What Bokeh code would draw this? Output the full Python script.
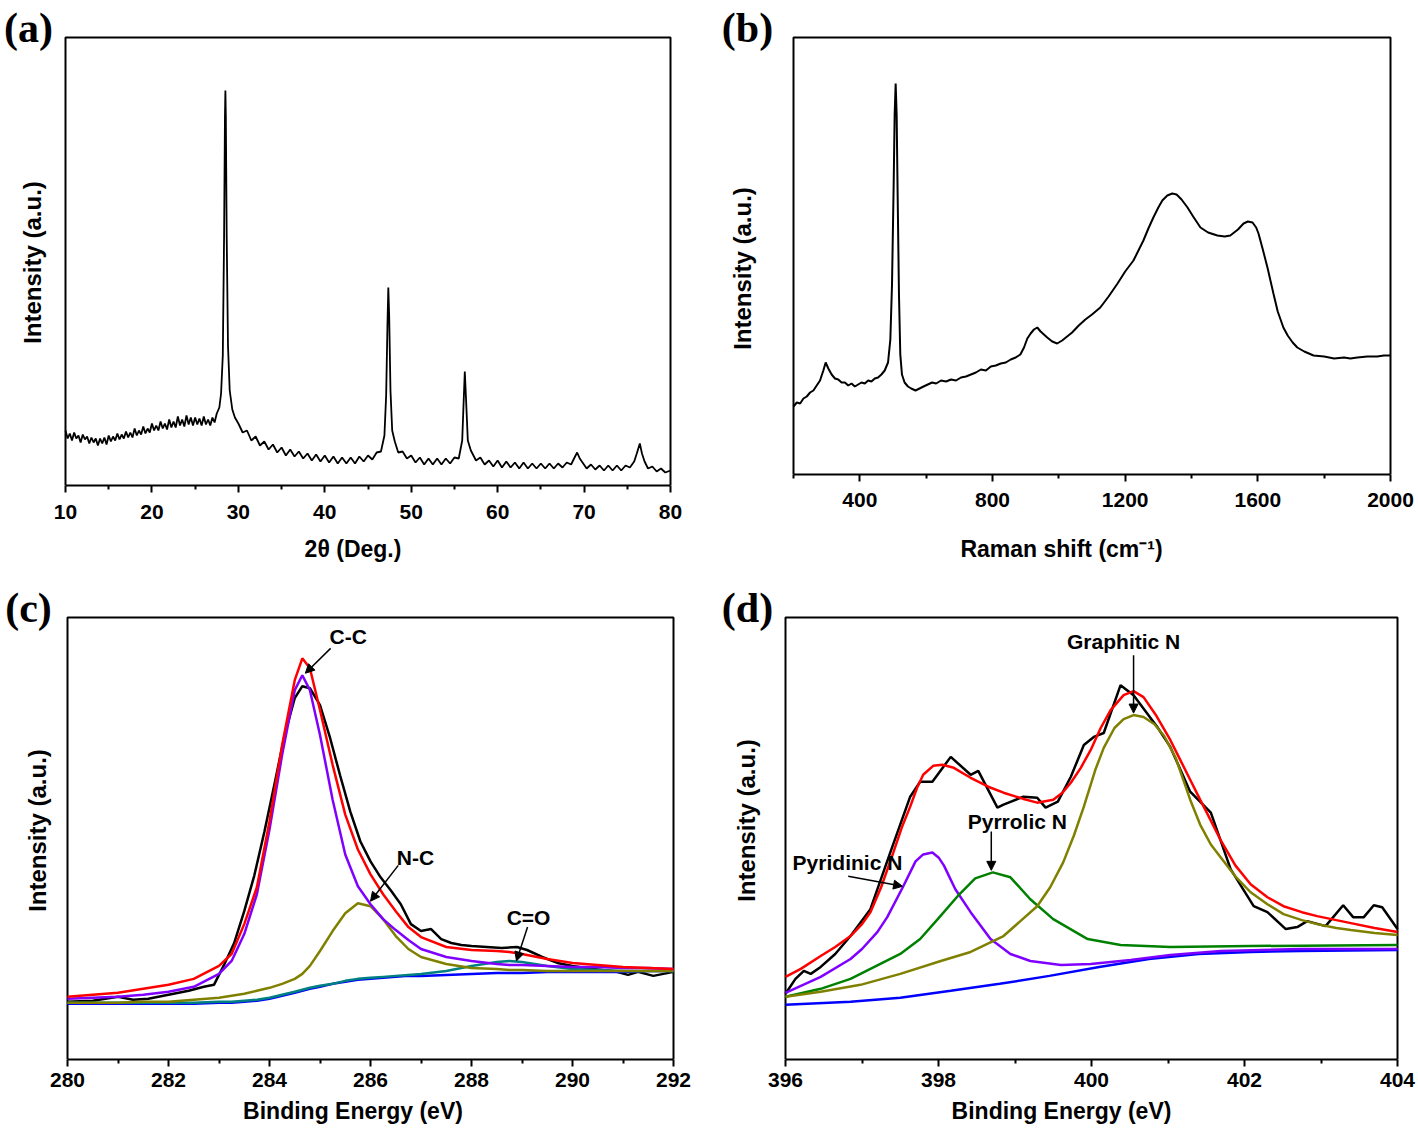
import math
from bokeh.plotting import figure
from bokeh.layouts import column, row
from bokeh.models import FixedTicker, Label, Arrow, NormalHead, Range1d
from bokeh.embed import file_html
from bokeh.resources import INLINE

# ---------------- (a) XRD ----------------
xrd_two_theta = [
    10.0, 10.25, 10.5, 10.75, 11.0, 11.25, 11.5, 11.75, 12.0, 12.25,
    12.5, 12.75, 13.0, 13.25, 13.5, 13.75, 14.0, 14.25, 14.5, 14.75,
    15.0, 15.25, 15.5, 15.75, 16.0, 16.25, 16.5, 16.75, 17.0, 17.25,
    17.5, 17.75, 18.0, 18.25, 18.5, 18.75, 19.0, 19.25, 19.5, 19.75,
    20.0, 20.25, 20.5, 20.75, 21.0, 21.25, 21.5, 21.75, 22.0, 22.25,
    22.5, 22.75, 23.0, 23.25, 23.5, 23.75, 24.0, 24.25, 24.5, 24.75,
    25.0, 25.25, 25.5, 25.75, 26.0, 26.25, 26.5, 26.75, 27.0, 27.25,
    27.5, 27.8, 28.0, 28.2, 28.35, 28.45, 28.5, 28.55, 28.65, 28.8,
    29.0, 29.3, 29.6, 30.0, 30.5,
    31.0, 31.5, 32.0, 32.5, 33.0, 33.5, 34.0, 34.5, 35.0, 35.5,
    36.0, 36.5, 37.0, 37.5, 38.0, 38.5, 39.0, 39.5, 40.0, 40.5,
    41.0, 41.5, 42.0, 42.5, 43.0, 43.5, 44.0, 44.5, 45.0, 45.5,
    46.0, 46.5, 46.9, 47.1, 47.25, 47.35, 47.45, 47.6, 47.8, 48.1,
    48.5, 49.0, 49.5, 50.0, 50.5, 51.0, 51.5, 52.0, 52.5, 53.0,
    53.5, 54.0, 54.5, 55.0, 55.5, 55.9, 56.05, 56.2, 56.35, 56.55,
    56.9, 57.5, 58.0, 58.5, 59.0, 59.5, 60.0, 60.5, 61.0, 61.5,
    62.0, 62.5, 63.0, 63.5, 64.0, 64.5, 65.0, 65.5, 66.0, 66.5,
    67.0, 67.5, 68.0, 68.5, 68.9, 69.2, 69.5, 69.9, 70.3, 70.8,
    71.3, 71.8, 72.3, 72.8, 73.3, 73.8, 74.3, 74.8, 75.3, 75.8,
    76.1, 76.45, 76.7, 77.0, 77.4, 77.9, 78.4, 78.9, 79.4, 80.0]
xrd_intensity = [
    55, 47, 52, 45, 53, 47, 50, 43, 51, 46,
    49, 42, 48, 43, 47, 40, 47, 42, 48, 41,
    50, 44, 49, 45, 52, 46, 51, 47, 54, 48,
    53, 48, 57, 50, 55, 51, 59, 52, 57, 53,
    62, 55, 60, 55, 64, 57, 62, 56, 66, 58,
    64, 58, 69, 60, 66, 59, 70, 61, 68, 60,
    68, 61, 67, 60, 69, 61, 66, 60, 68, 63,
    72, 78, 92, 130, 250, 370, 395, 370, 250, 140,
    95, 76, 68, 62, 53,
    55, 45, 49, 40, 44, 36, 41, 33, 38, 30,
    36, 29, 34, 27, 32, 25, 31, 24, 30, 23,
    29, 22, 28, 22, 28, 22, 29, 24, 30, 26,
    33, 34, 50, 90, 160, 198, 170, 95, 55, 44,
    33, 34, 27, 30, 23, 28, 21, 27, 21, 27,
    21, 27, 22, 28, 27, 45, 80, 114, 85, 45,
    35, 25, 28, 21, 25, 19, 25, 18, 24, 18,
    23, 17, 23, 17, 22, 17, 22, 17, 22, 17,
    22, 18, 23, 21, 28, 33, 27, 22, 17, 21,
    16, 20, 15, 20, 15, 20, 15, 20, 18, 24,
    32, 42, 32, 24, 17, 19, 14, 17, 13, 15]
xrd_ticks = [10, 20, 30, 40, 50, 60, 70, 80]
xrd_minor = [15, 25, 35, 45, 55, 65, 75]

# ---------------- (b) Raman ----------------
raman_shift = [
    200, 210, 220, 230, 240, 250, 260, 270, 280, 290,
    297, 305, 315, 325, 335, 345, 355, 365, 375, 385,
    395, 405, 415, 425, 435, 445, 455, 465, 475, 485,
    492, 497, 502, 505, 508, 511, 514, 518, 522, 527,
    535, 545, 555, 568, 580, 592, 605, 618, 630, 645,
    660, 675, 690, 705, 720, 735, 750, 765, 780, 795,
    810, 825, 840, 855, 870, 884, 895, 905, 915, 925,
    935, 945, 955, 965, 980, 995, 1010, 1025, 1040, 1060,
    1080, 1100, 1125, 1150, 1177, 1200, 1225, 1240, 1255, 1270,
    1285, 1300, 1312, 1327, 1342, 1355, 1370, 1388, 1405, 1427,
    1450, 1478, 1500, 1517, 1540, 1557, 1570, 1584, 1595, 1602,
    1615, 1629, 1647, 1660, 1677, 1690, 1705, 1719, 1740, 1768,
    1800, 1830, 1860, 1879, 1900, 1930, 1960, 1980, 2000]
raman_intensity = [
    68, 72, 71, 76, 78, 82, 84, 89, 94, 104,
    112, 106, 100, 96, 95, 92, 92, 89, 91, 88,
    90, 92, 91, 94, 93, 96, 97, 100, 104, 112,
    135, 190, 290, 360, 391, 360, 280, 180, 120, 100,
    92, 88, 86, 84, 86, 88, 90, 92, 91, 94,
    93, 95, 94, 97, 98, 100, 102, 105, 104, 108,
    109, 111, 112, 115, 117, 120, 127, 136, 141, 145,
    147, 143, 140, 137, 133, 131, 134, 138, 142, 149,
    155, 160, 167, 178, 191, 203, 214, 224, 234, 246,
    257, 267, 274, 279, 281, 280, 275, 267, 258, 247,
    242, 239, 238, 239, 245, 251, 253, 252, 247, 241,
    225, 207, 181, 163, 147, 139, 132, 127, 123, 119,
    118, 116, 117, 116, 117, 118, 118, 119, 119]
raman_ticks = [400, 800, 1200, 1600, 2000]
raman_minor = [200, 600, 1000, 1400, 1800]

# ---------------- (c) C 1s XPS ----------------
c_raw_energy = [
    280, 280.5, 281, 281.3, 281.6, 282, 282.4, 282.7, 282.9, 283.1,
    283.3, 283.5, 283.7, 283.9, 284.1, 284.3, 284.5, 284.65, 284.8, 285,
    285.2, 285.4, 285.6, 285.8, 286, 286.2, 286.4, 286.6, 286.8, 287,
    287.2, 287.4, 287.6, 287.8, 288, 288.3, 288.6, 288.9, 289.1, 289.4,
    289.7, 290, 290.4, 290.8, 291.1, 291.3, 291.6, 291.8, 292]
c_raw = [
    58, 59, 63, 60, 61, 65, 69, 73, 75, 95,
    117, 149, 185, 229, 277, 326, 363, 375, 373, 356,
    323, 285, 249, 219, 199, 183, 170, 156, 136, 129,
    131, 121, 117, 115, 114, 113, 112, 113, 110, 103,
    97, 94, 91, 89, 85, 88, 84, 86, 88]
c_fit_energy = [
    280, 280.5, 281, 281.5, 282, 282.5, 283, 283.25, 283.5, 283.75,
    284, 284.25, 284.5, 284.65, 284.8, 285, 285.25, 285.5, 285.75, 286,
    286.25, 286.5, 286.75, 287, 287.5, 288, 288.5, 288.75, 289, 289.5,
    290, 290.5, 291, 291.5, 292]
c_envelope = [
    63, 65, 67, 71, 75, 81, 94, 106, 136, 173,
    239, 316, 381, 403, 393, 351, 296, 246, 211, 186,
    166, 149, 133, 123, 113, 110, 109, 108, 106, 101,
    97, 95, 93, 92, 91]
c_cc = [
    61, 62, 63, 65, 68, 73, 86, 99, 126, 166,
    231, 306, 371, 386, 371, 326, 261, 206, 174, 156,
    141, 130, 120, 111, 103, 99, 96, 95, 95, 94,
    93, 93, 92, 92, 91]
c_nc = [
    57, 57, 57, 58, 58, 60, 62, 64, 66, 69,
    72, 76, 81, 86, 94, 109, 129, 147, 157, 154,
    141, 124, 111, 103, 96, 92, 91, 90, 90, 89,
    89, 89, 89, 89, 89]
c_co = [
    57, 57, 57, 57, 57, 57, 58, 58, 59, 60,
    62, 65, 68, 70, 72, 74, 76, 79, 81, 82,
    83, 84, 85, 86, 89, 94, 98, 99, 98, 94,
    91, 90, 89, 89, 89]
c_background = [
    56, 56, 56, 56, 56, 56, 57, 57, 58, 59,
    61, 64, 67, 69, 71, 73, 76, 78, 80, 81,
    82, 83, 84, 84, 85, 86, 87, 87, 87, 88,
    88, 88, 88, 89, 89]
c_ticks = [280, 282, 284, 286, 288, 290, 292]
c_minor = [281, 283, 285, 287, 289, 291]

# ---------------- (d) N 1s XPS ----------------
d_raw_energy = [
    396.0, 396.13, 396.24, 396.33, 396.46, 396.65, 396.85, 397.11, 397.37, 397.63,
    397.76, 397.92, 398.16, 398.42, 398.52, 398.77, 398.85, 399.11, 399.29, 399.4,
    399.56, 399.73, 399.9, 400.03, 400.16, 400.38, 400.55, 400.86, 401.03, 401.29,
    401.56, 401.82, 402.12, 402.3, 402.54, 402.69, 402.82, 403.06, 403.29, 403.42,
    403.56, 403.69, 403.8, 404.0]
d_raw = [
    66, 81, 89, 86, 93, 106, 124, 151, 208, 264,
    279, 279, 304, 286, 290, 253, 256, 264, 263, 253,
    259, 284, 316, 324, 328, 376, 366, 334, 314, 269,
    248, 191, 154, 148, 131, 133, 139, 134, 155, 143,
    143, 155, 153, 131]
d_env_energy = [
    396.0, 396.2, 396.46, 396.65, 396.85, 397.0, 397.11, 397.25, 397.41, 397.52,
    397.63, 397.72, 397.8, 397.93, 398.05, 398.2, 398.42, 398.65, 398.85, 399.1,
    399.29, 399.5, 399.62, 399.73, 399.86, 399.99, 400.12, 400.25, 400.42, 400.55,
    400.68, 400.85, 401.03, 401.16, 401.29, 401.42, 401.56, 401.69, 401.88, 402.08,
    402.3, 402.51, 402.75, 402.95, 403.2, 403.39, 403.7, 404.0]
d_envelope = [
    83, 91, 104, 113, 124, 136, 148, 173, 208, 233,
    254, 273, 286, 295, 296, 293, 283, 274, 268, 262,
    258, 261, 268, 278, 293, 311, 333, 351, 366, 370,
    364, 345, 321, 301, 281, 261, 240, 220, 195, 176,
    163, 154, 148, 144, 140, 137, 132, 128]
d_graphitic_energy = [
    396.0, 396.46, 396.98, 397.5, 398.03, 398.42, 398.85, 399.07, 399.29, 399.46,
    399.63, 399.77, 399.9, 400.05, 400.16, 400.3, 400.42, 400.55, 400.68, 400.82,
    400.95, 401.1, 401.29, 401.42, 401.56, 401.69, 401.88, 402.08, 402.3, 402.51,
    402.75, 402.95, 403.2, 403.39, 403.7, 404.0]
d_graphitic = [
    63, 68, 75, 86, 99, 108, 124, 139, 154, 173,
    198, 225, 254, 291, 313, 333, 342, 346, 344, 337,
    325, 303, 261, 236, 216, 203, 184, 168, 156, 146,
    140, 136, 132, 130, 127, 125]
d_pyridinic_energy = [
    396.0, 396.46, 396.85, 397.0, 397.2, 397.33, 397.54, 397.7, 397.8, 397.92,
    398.0, 398.07, 398.22, 398.42, 398.68, 398.94, 399.2, 399.6, 399.99, 400.51,
    401.03, 401.69, 402.73, 404.0]
d_pyridinic = [
    67, 83, 101, 111, 128, 143, 174, 199, 206, 208,
    203, 195, 171, 148, 121, 106, 99, 95, 96, 100,
    105, 109, 111, 111]
d_pyrrolic_energy = [
    396.0, 396.46, 396.85, 397.24, 397.5, 397.76, 397.99, 398.25, 398.48, 398.71,
    398.94, 399.2, 399.5, 399.95, 400.38, 401.03, 402.08, 404.0]
d_pyrrolic = [
    63, 71, 81, 96, 106, 121, 141, 164, 182, 188,
    183, 161, 141, 121, 115, 113, 114, 115]
d_bg_energy = [396.0, 396.85, 397.5, 398.16, 398.8, 399.45, 400.1, 400.75, 401.4, 402.08, 402.73, 404.0]
d_background = [55, 58, 62, 69, 76, 84, 93, 101, 106, 108, 109, 110]
d_ticks = [396, 398, 400, 402, 404]
d_minor = [397, 399, 401, 403]

# annotation texts: text x, text y, arrow start x, y, arrow end x, y (data units)
c_notes = [("C-C", 285.56, 425, 285.21, 413, 284.71, 388),
           ("N-C", 286.89, 203, 286.55, 195, 286.0, 159),
           ("C=O", 289.13, 143, 289.11, 133, 288.89, 99)]
d_notes = [("Graphitic N", 400.42, 420, 400.55, 406, 400.55, 348),
           ("Pyrrolic N", 399.03, 239, 398.69, 229, 398.69, 190),
           ("Pyridinic N", 396.81, 198, 396.82, 184, 397.53, 174)]

FONT = "Liberation Sans"
SERIF = "Liberation Serif"
RED = "#ff0000"
VIOLET = "#8000ff"
OLIVE = "#808000"
TEAL = "#008080"
BLUE = "#0000ff"
GREEN = "#008000"


def panel(W, H, box, xlim, ylim, ticks, minor, xlabel, tick_standoff, title_standoff,
          letter, letter_px, ylabel_px):
    # box: (left, top, right, bottom) of the drawn axes box in canvas pixels
    bl, bt, br, bb = box
    x0, x1 = xlim
    y0, y1 = ylim
    kx = (br - bl) / (x1 - x0)
    ky = (bb - bt) / (y1 - y0)
    xr = Range1d(x0 - bl / kx, x1 + (W - br) / kx)
    yr = Range1d(y0, y1 + bt / ky)

    def to_data(px, py):
        return x0 + (px - bl) / kx, y0 + (bb - py) / ky

    p = figure(width=W, height=H, x_range=xr, y_range=yr, y_axis_location=None,
               output_backend="svg", toolbar_location=None, title=None,
               min_border_left=0, min_border_right=0, min_border_top=0,
               min_border_bottom=H - bb,
               background_fill_color="white", border_fill_color="white")
    if "frame_align" in p.properties():
        p.frame_align = False
    p.xgrid.grid_line_color = None
    p.ygrid.grid_line_color = None
    p.outline_line_color = None
    # the axes box (left, top, right sides); bottom side is the x axis
    p.line([x0, x0, x1, x1], [y0, y1, y1, y0], line_color="black", line_width=2)

    xa = p.xaxis[0]
    xa.bounds = (x0, x1)
    xa.ticker = FixedTicker(ticks=ticks, minor_ticks=minor)
    xa.axis_line_width = 2
    xa.axis_line_color = "black"
    xa.major_tick_line_width = 2
    xa.minor_tick_line_width = 2
    xa.major_tick_line_color = "black"
    xa.minor_tick_line_color = "black"
    xa.major_tick_in = 0
    xa.major_tick_out = 7
    xa.minor_tick_in = 0
    xa.minor_tick_out = 4
    xa.major_label_standoff = tick_standoff
    xa.major_label_text_font = FONT
    xa.major_label_text_font_style = "bold"
    xa.major_label_text_font_size = "21px"
    xa.major_label_text_color = "black"
    xa.axis_label = xlabel
    xa.axis_label_standoff = title_standoff
    xa.axis_label_text_font = FONT
    xa.axis_label_text_font_style = "bold"
    xa.axis_label_text_font_size = "23px"
    xa.axis_label_text_color = "black"

    lx, ly = to_data(*letter_px)
    p.add_layout(Label(x=lx, y=ly, text=letter, text_font=SERIF, text_font_style="bold",
                       text_font_size="42px", text_align="center", text_baseline="middle",
                       text_color="black"))
    yx, yy = to_data(*ylabel_px)
    p.add_layout(Label(x=yx, y=yy, text="Intensity (a.u.)", angle=math.pi / 2,
                       text_font=FONT, text_font_style="bold", text_font_size="24px",
                       text_align="center", text_baseline="middle", text_color="black"))
    return p


def notes(p, items):
    for txt, tx, ty, xs, ys, xe, ye in items:
        p.add_layout(Label(x=tx, y=ty, text=txt, text_font=FONT, text_font_style="bold",
                           text_font_size="21px", text_align="center", text_baseline="middle",
                           text_color="black"))
        p.add_layout(Arrow(x_start=xs, y_start=ys, x_end=xe, y_end=ye, line_width=1.5,
                           line_color="black",
                           end=NormalHead(size=9, fill_color="black", line_color="black",
                                          line_width=1)))


LEFT_W, RIGHT_W = 705, 712
TOP_H, BOT_H = 580, 550

# (a)
pa = panel(LEFT_W, TOP_H, (65, 37, 670, 485), (10, 80), (0, 448), xrd_ticks, xrd_minor,
           "2\u03b8 (Deg.)", 12, 14, "(a)", (28, 27), (32, 262))
pa.line(xrd_two_theta, xrd_intensity, line_color="black", line_width=1.8)

# (b)
pb = panel(RIGHT_W, TOP_H, (88, 37, 685, 474), (200, 2000), (0, 437), raman_ticks, raman_minor,
           "Raman shift (cm\u207b\u00b9)", 11, 26, "(b)", (42, 27), (37, 268))
pb.line(raman_shift, raman_intensity, line_color="black", line_width=2)

# (c)
pc = panel(LEFT_W, BOT_H, (67, 37, 673, 479), (280, 292), (0, 444), c_ticks, c_minor,
           "Binding Energy (eV)", 6, 8, "(c)", (28, 27), (37, 250))
pc.line(c_raw_energy, c_raw, line_color="black", line_width=2.5)
pc.line(c_fit_energy, c_background, line_color=BLUE, line_width=2.5)
pc.line(c_fit_energy, c_co, line_color=TEAL, line_width=2.5)
pc.line(c_fit_energy, c_nc, line_color=OLIVE, line_width=2.5)
pc.line(c_fit_energy, c_cc, line_color=VIOLET, line_width=2.5)
pc.line(c_fit_energy, c_envelope, line_color=RED, line_width=2.5)
notes(pc, c_notes)

# (d)
pd = panel(RIGHT_W, BOT_H, (80, 37, 692, 479), (396, 404), (0, 444), d_ticks, d_minor,
           "Binding Energy (eV)", 6, 8, "(d)", (42, 27), (41, 240))
pd.line(d_raw_energy, d_raw, line_color="black", line_width=2.5)
pd.line(d_bg_energy, d_background, line_color=BLUE, line_width=2.5)
pd.line(d_pyridinic_energy, d_pyridinic, line_color=VIOLET, line_width=2.5)
pd.line(d_pyrrolic_energy, d_pyrrolic, line_color=GREEN, line_width=2.5)
pd.line(d_graphitic_energy, d_graphitic, line_color=OLIVE, line_width=2.5)
pd.line(d_env_energy, d_envelope, line_color=RED, line_width=2.5)
notes(pd, d_notes)

layout = column(row(pa, pb), row(pc, pd))
open("out.html", "w").write(file_html(layout, INLINE))
